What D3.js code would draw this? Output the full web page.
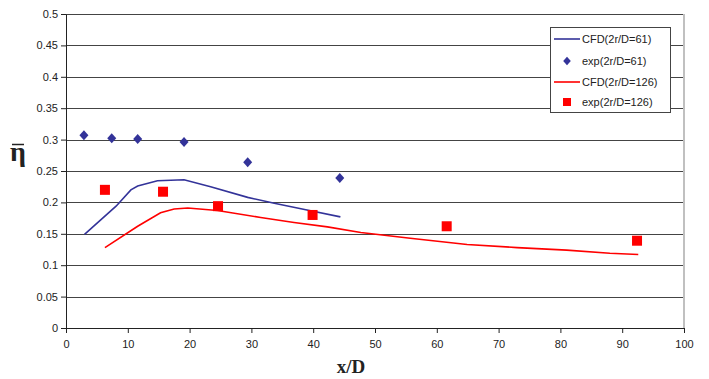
<!DOCTYPE html>
<html>
<head>
<meta charset="utf-8">
<script src="https://cdn.jsdelivr.net/npm/d3@7"></script>
<style>
  body { margin: 0; background: #fff; }
  svg { display: block; }
</style>
</head>
<body>
<svg id="chart" width="709" height="379"></svg>
<script>
// CFD (2r/D=61)
var cfd61X = [3.0, 8.1, 10.5, 11.6, 14.8, 19.1, 23.4, 29.4, 33.7, 39.0, 44.4];
var cfd61Y = [0.149, 0.194, 0.220, 0.226, 0.2345, 0.236, 0.225, 0.208, 0.1985, 0.188, 0.177];
// exp (2r/D=61)
var exp61X = [2.9, 7.4, 11.6, 19.1, 29.4, 44.3];
var exp61Y = [0.307, 0.302, 0.301, 0.296, 0.264, 0.239];
// CFD (2r/D=126)
var cfd126X = [6.3, 11.6, 15.3, 17.5, 19.7, 24.5, 31.5, 36.9, 42.3, 47.7, 55.7, 64.9, 73.0, 81.0, 88.0, 92.6];
var cfd126Y = [0.128, 0.162, 0.1836, 0.1895, 0.191, 0.187, 0.176, 0.168, 0.161, 0.152, 0.143, 0.133, 0.128, 0.124, 0.119, 0.117];
// exp (2r/D=126)
var exp126X = [6.3, 15.7, 24.6, 39.9, 61.6, 92.4];
var exp126Y = [0.220, 0.217, 0.194, 0.180, 0.162, 0.139];

var xTicks = [0, 10, 20, 30, 40, 50, 60, 70, 80, 90, 100];
var yTicks = [0, 0.05, 0.1, 0.15, 0.2, 0.25, 0.3, 0.35, 0.4, 0.45, 0.5];
var legendLabels = ["CFD(2r/D=61)", "exp(2r/D=61)", "CFD(2r/D=126)", "exp(2r/D=126)"];

var blue = "#333399", red = "#ff0000";
var svg = d3.select("#chart");
var x = d3.scaleLinear().domain([0, 100]).range([66, 684]);
var y = d3.scaleLinear().domain([0, 0.5]).range([328, 14]);

// gridlines
svg.append("g").selectAll("line").data(yTicks.slice(1)).enter().append("line")
    .attr("x1", x(0)).attr("x2", x(100))
    .attr("y1", d => Math.round(y(d)) + 0.5).attr("y2", d => Math.round(y(d)) + 0.5)
    .attr("stroke", "#444").attr("stroke-width", 1);

// right border
svg.append("line").attr("x1", x(100)).attr("x2", x(100)).attr("y1", y(0.5)).attr("y2", y(0))
    .attr("stroke", "#c0c0c0").attr("stroke-width", 2);

var font = "Liberation Sans, Arial, sans-serif";

var yAxis = svg.append("g").attr("transform", "translate(" + x(0) + ",0)")
    .call(d3.axisLeft(y).tickValues(yTicks).tickSize(5).tickSizeOuter(0).tickFormat(d3.format("")).tickPadding(3));
var xAxis = svg.append("g").attr("transform", "translate(0," + y(0) + ")")
    .call(d3.axisBottom(x).tickValues(xTicks).tickSize(5).tickSizeOuter(0).tickPadding(7));
[xAxis, yAxis].forEach(function(a) {
    a.selectAll("text").attr("font-family", font).attr("font-size", 11).attr("fill", "#222");
    a.selectAll("line, path").attr("stroke", "#222");
});

var line = d3.line().x(d => x(d[0])).y(d => y(d[1]));
svg.append("path").datum(d3.zip(cfd61X, cfd61Y)).attr("d", line)
    .attr("fill", "none").attr("stroke", blue).attr("stroke-width", 1.6);
svg.append("path").datum(d3.zip(cfd126X, cfd126Y)).attr("d", line)
    .attr("fill", "none").attr("stroke", red).attr("stroke-width", 1.6);

var diamond = "M0,-5L4.5,0L0,5L-4.5,0Z";
svg.append("g").selectAll("path").data(d3.zip(exp61X, exp61Y)).enter().append("path")
    .attr("d", diamond).attr("fill", blue)
    .attr("transform", d => "translate(" + x(d[0]) + "," + y(d[1]) + ")");
svg.append("g").selectAll("rect").data(d3.zip(exp126X, exp126Y)).enter().append("rect")
    .attr("x", d => x(d[0]) - 5).attr("y", d => y(d[1]) - 5)
    .attr("width", 10).attr("height", 10).attr("fill", red);

// legend
var lg = svg.append("g");
lg.append("rect").attr("x", 550.5).attr("y", 27.5).attr("width", 120).attr("height", 85)
    .attr("fill", "#fff").attr("stroke", "#444").attr("stroke-width", 1);
var rows = [39, 61, 82, 102];
legendLabels.forEach(function(t, i) {
    var yy = rows[i];
    if (i === 0 || i === 2) {
        lg.append("line").attr("x1", 554).attr("x2", 580).attr("y1", yy).attr("y2", yy)
            .attr("stroke", i === 0 ? blue : red).attr("stroke-width", 1.6);
    } else if (i === 1) {
        lg.append("path").attr("d", diamond).attr("fill", blue)
            .attr("transform", "translate(567," + yy + ") scale(0.85)");
    } else {
        lg.append("rect").attr("x", 563).attr("y", yy - 4).attr("width", 8).attr("height", 8).attr("fill", red);
    }
    lg.append("text").attr("x", 582).attr("y", yy + 4).text(t)
        .attr("font-family", font).attr("font-size", 11).attr("fill", "#222");
});

// axis titles
svg.append("text").attr("x", 351).attr("y", 373).attr("text-anchor", "middle")
    .attr("font-family", "Liberation Serif, Times New Roman, serif").attr("font-size", 19)
    .attr("font-weight", "bold").attr("fill", "#222").text("x/D");
svg.append("text").attr("x", 18).attr("y", 161).attr("text-anchor", "middle")
    .attr("font-family", "Liberation Serif, serif").attr("font-size", 28)
    .attr("font-weight", "bold").attr("fill", "#222").text("\u03B7");
svg.append("line").attr("x1", 12).attr("x2", 24).attr("y1", 144.5).attr("y2", 144.5)
    .attr("stroke", "#222").attr("stroke-width", 1.5);
</script>
</body>
</html>
